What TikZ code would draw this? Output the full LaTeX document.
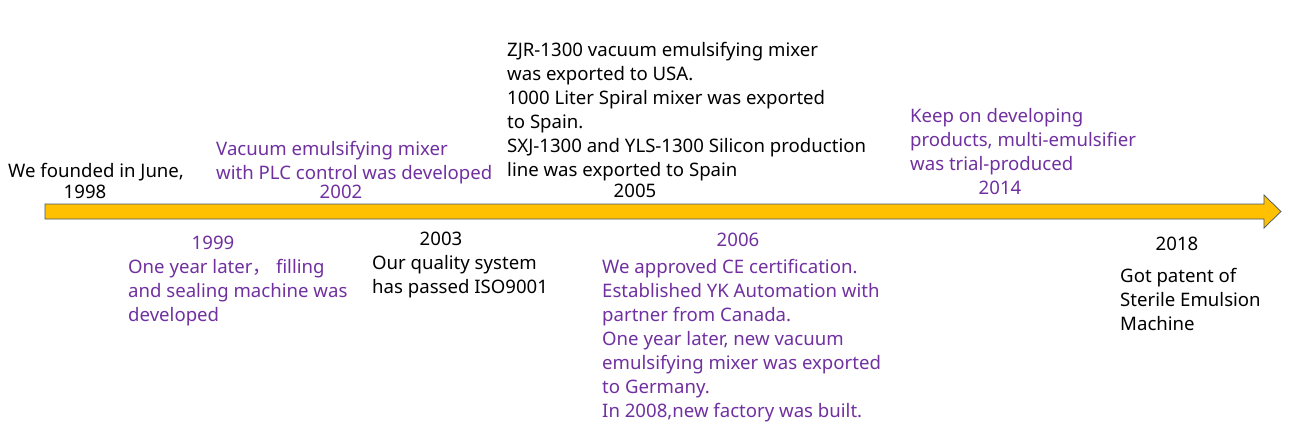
\documentclass[tikz,border=0pt]{standalone}
\usepackage{fontspec}
\setmainfont{Noto Sans}
\newfontfamily\cjkfont{Noto Sans CJK SC}
\usepackage{xcolor}
\usetikzlibrary{positioning}
\definecolor{tlpurple}{RGB}{112,48,160}
\definecolor{tlgold}{RGB}{255,192,0}
\definecolor{tledge}{RGB}{68,84,106}
\tikzset{
  evt/.style  ={align=left, inner sep=0pt, anchor=base west,
                font=\fontsize{18.6}{24}\selectfont},
  pevt/.style ={evt, text=tlpurple},
  yr/.style   ={inner sep=0pt, anchor=base,
                font=\fontsize{18.6}{24}\selectfont},
  pyr/.style  ={yr, text=tlpurple},
  tlarrow/.style={draw=tledge, fill=tlgold, line width=0.7pt,
                line join=miter},
}

\begin{document}
\begin{tikzpicture}[x=1pt, y=-1pt]
\useasboundingbox (0,0) rectangle (1306,439);
% time axis
\draw[tlarrow] (45,204) -- (1264,204) -- (1264,195) -- (1281,211.5)
  -- (1264,228) -- (1264,219) -- (45,219) -- cycle;
% above the axis (base anchor = last line)
\node[evt] (e98) at (8,177) {We founded in June,};
\node[yr] (y98) at (85,198) {1998};
\node[pevt] (e02) at (216,179)
  {Vacuum emulsifying mixer\\with PLC control was developed};
\node[pyr] (y02) at (341,198) {2002};
\node[evt] (e05) at (507,176)
  {ZJR-1300 vacuum emulsifying mixer\\was exported to USA.\\
   1000 Liter Spiral mixer was exported\\to Spain.\\
   SXJ-1300 and YLS-1300 Silicon production\\line was exported to Spain};
\node[yr] (y05) at (635,197) {2005};
\node[pevt] (e14) at (910,170)
  {Keep on developing\\products, multi-emulsifier\\was trial-produced};
\node[pyr] (y14) at (1000,194) {2014};
% below the axis
\node[pyr] (y99) at (213,249) {1999};
\node[pevt] (e99) at (128,321)
  {One year later{\cjkfont ，} filling\\and sealing machine was\\developed};
\node[yr] (y03) at (441,245) {2003};
\node[evt] (e03) at (372,293) {Our quality system\\has passed ISO9001};
\node[pyr] (y06) at (738,246) {2006};
\node[pevt] (e06) at (602,417)
  {We approved CE certification.\\Established YK Automation with\\
   partner from Canada.\\One year later, new vacuum\\
   emulsifying mixer was exported\\to Germany.\\
   In 2008,new factory was built.};
\node[yr] (y18) at (1177,250) {2018};
\node[evt] (e18) at (1120,330)
  {Got patent of\\Sterile Emulsion\\Machine};
\end{tikzpicture}
\end{document}
